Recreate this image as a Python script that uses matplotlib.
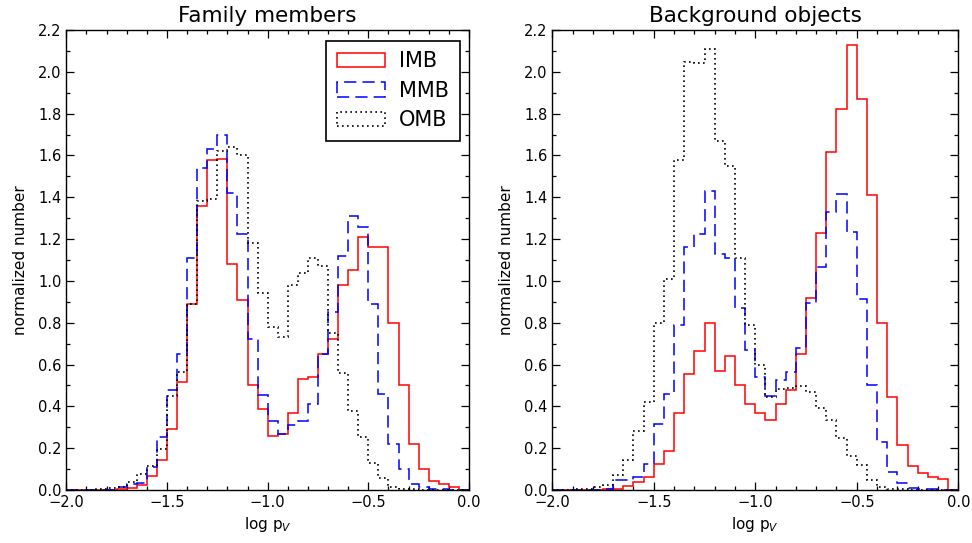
import numpy as np
import matplotlib
matplotlib.use("Agg")
import matplotlib.pyplot as plt
from matplotlib.ticker import MultipleLocator

# log(albedo) bins: 40 bins of width 0.05 from -2.0 to 0.0
bin_edges = np.round(np.arange(-2.0, 0.0001, 0.05), 3)
series_names = ["IMB", "MMB", "OMB"]

# Family members, normalized counts per bin
family_imb = [0, 0, 0, 0, 0, 0.005, 0.008, 0.026, 0.067, 0.142,
              0.29, 0.515, 0.89, 1.36, 1.58, 1.585, 1.08, 0.91, 0.50, 0.385,
              0.26, 0.266, 0.37, 0.53, 0.54, 0.65, 0.72, 0.98, 1.05, 1.21,
              1.16, 1.16, 0.80, 0.50, 0.22, 0.10, 0.043, 0.027, 0.016, 0]
family_mmb = [0, 0, 0, 0, 0, 0.012, 0.03, 0.035, 0.11, 0.255,
              0.48, 0.65, 1.11, 1.54, 1.63, 1.70, 1.42, 1.225, 0.72, 0.455,
              0.33, 0.27, 0.31, 0.33, 0.41, 0.65, 0.85, 1.12, 1.31, 1.26,
              0.89, 0.46, 0.22, 0.10, 0.03, 0.016, 0.005, 0.003, 0, 0]
family_omb = [0, 0, 0, 0.003, 0.008, 0.016, 0.04, 0.075, 0.115, 0.195,
              0.45, 0.565, 0.89, 1.38, 1.39, 1.62, 1.64, 1.60, 1.18, 0.94,
              0.78, 0.73, 0.98, 1.04, 1.11, 1.07, 0.75, 0.56, 0.38, 0.255,
              0.13, 0.056, 0.016, 0.005, 0.003, 0, 0, 0, 0, 0]

# Background objects, normalized counts per bin
backgr_imb = [0, 0, 0, 0, 0, 0.003, 0.003, 0.02, 0.038, 0.06,
              0.125, 0.186, 0.368, 0.557, 0.663, 0.80, 0.57, 0.64, 0.50, 0.41,
              0.37, 0.336, 0.41, 0.478, 0.65, 0.92, 1.23, 1.615, 1.82, 2.127,
              1.87, 1.41, 0.80, 0.445, 0.215, 0.116, 0.08, 0.064, 0.052, 0]
backgr_mmb = [0, 0, 0, 0, 0, 0.003, 0.046, 0.05, 0.064, 0.123,
              0.315, 0.46, 0.79, 1.16, 1.225, 1.43, 1.13, 1.11, 0.87, 0.67,
              0.54, 0.45, 0.525, 0.565, 0.68, 0.894, 1.066, 1.33, 1.416, 1.236,
              0.915, 0.504, 0.23, 0.087, 0.032, 0.008, 0.003, 0.003, 0, 0]
backgr_omb = [0, 0.002, 0.003, 0.005, 0.012, 0.025, 0.074, 0.143, 0.283, 0.42,
              0.80, 1.01, 1.58, 2.045, 2.04, 2.11, 1.67, 1.55, 1.11, 0.79,
              0.60, 0.445, 0.485, 0.49, 0.496, 0.47, 0.39, 0.334, 0.25, 0.165,
              0.12, 0.048, 0.016, 0.005, 0.003, 0, 0, 0, 0, 0]

panel_titles = ["Family members", "Background objects"]
x_label = r"log p$_V$"
y_label = "normalized number"

styles = [
    dict(color="#ff0000", linestyle="-", linewidth=1.1),
    dict(color="#0000ff", linestyle=(0, (8, 4)), linewidth=1.1),
    dict(color="#000000", linestyle=(0, (1, 2)), linewidth=1.2),
]

plt.rcParams["font.family"] = ["DejaVu Sans"]

fig = plt.figure(figsize=(9.72, 5.43), dpi=100)
ax_left = fig.add_axes([0.0682, 0.0976, 0.4143, 0.8472])
ax_right = fig.add_axes([0.5682, 0.0976, 0.4177, 0.8472])

centers = 0.5 * (bin_edges[:-1] + bin_edges[1:])

panels = [
    (ax_left, [family_imb, family_mmb, family_omb]),
    (ax_right, [backgr_imb, backgr_mmb, backgr_omb]),
]

for (ax, data), title in zip(panels, panel_titles):
    for values, name, st in zip(data, series_names, styles):
        ax.hist(centers, bins=bin_edges, weights=values, histtype="step",
                label=name, **st)
    ax.set_xlim(-2.0, 0.0)
    ax.set_ylim(0.0, 2.2)
    ax.xaxis.set_major_locator(MultipleLocator(0.5))
    ax.xaxis.set_minor_locator(MultipleLocator(0.1))
    ax.yaxis.set_major_locator(MultipleLocator(0.2))
    ax.yaxis.set_minor_locator(MultipleLocator(0.1))
    ax.tick_params(which="both", direction="in", top=True, right=True,
                   labelsize=10.5, width=0.9)
    ax.tick_params(which="major", length=6)
    ax.tick_params(which="minor", length=3)
    for sp in ax.spines.values():
        sp.set_linewidth(1.0)
    ax.set_title(title, fontsize=15.5, pad=6)
    ax.set_xlabel(x_label, fontsize=11)
    ax.set_ylabel(y_label, fontsize=11, labelpad=7)

leg = ax_left.legend(loc="upper right", bbox_to_anchor=(0.977, 0.976),
                     borderaxespad=0, fontsize=15, handlelength=2.3,
                     handletextpad=0.7, borderpad=0.5, labelspacing=0.45,
                     fancybox=False, framealpha=1, edgecolor="black")
leg.get_frame().set_linewidth(1.2)

fig.savefig("out.png", dpi=100)
